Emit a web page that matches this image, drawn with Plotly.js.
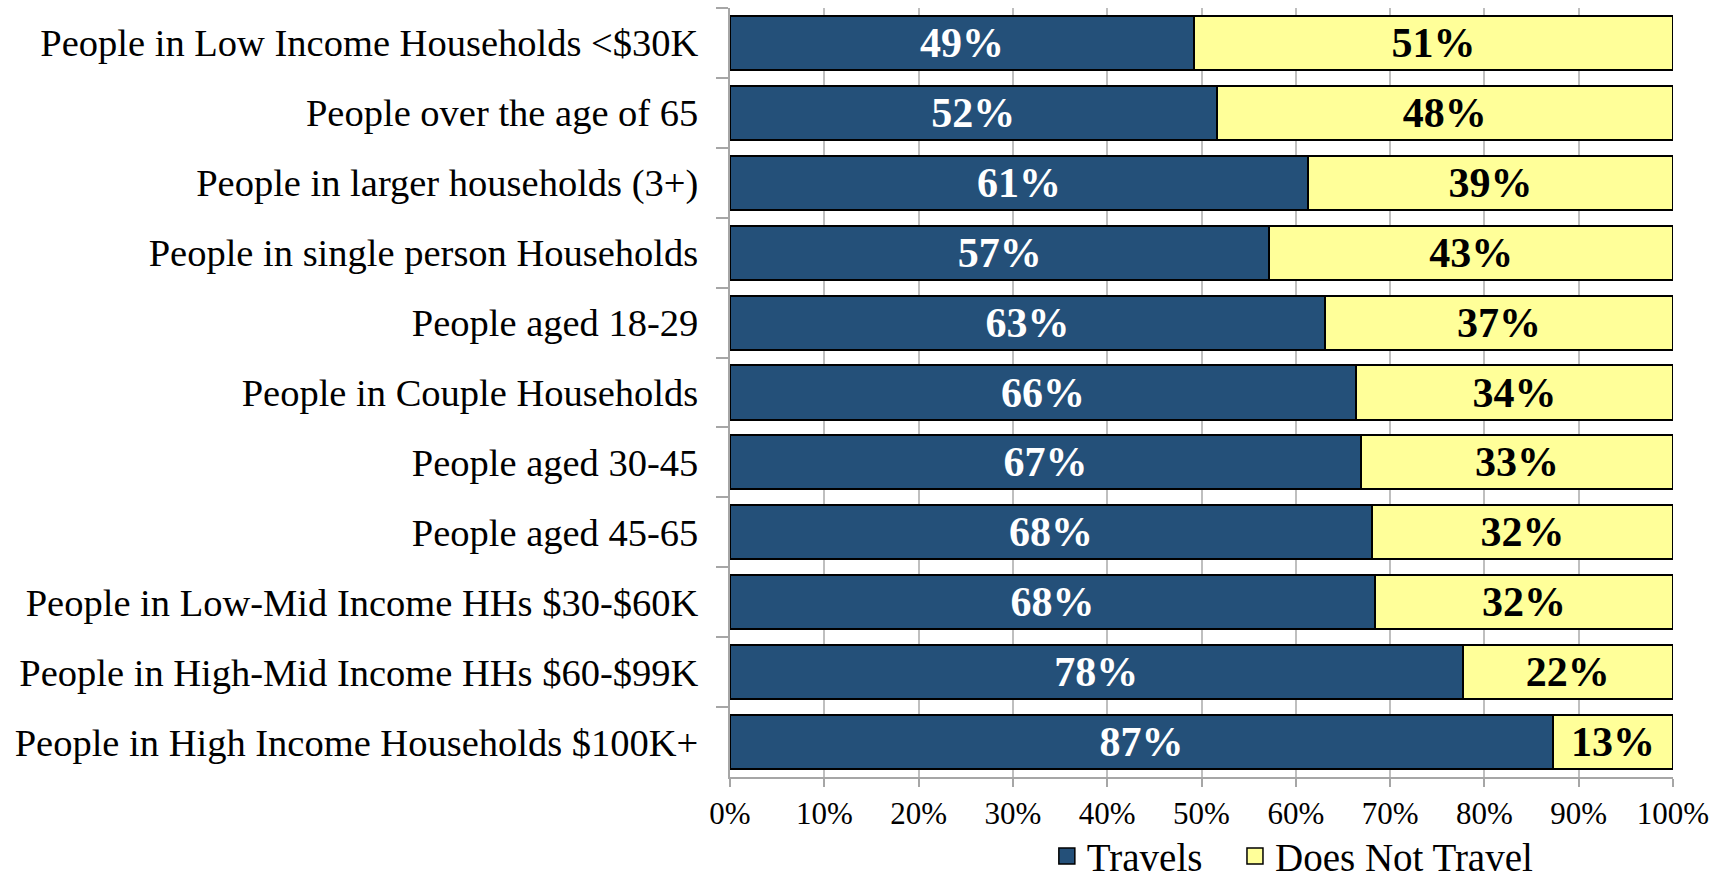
<!DOCTYPE html>
<html>
<head>
<meta charset="utf-8">
<script src="https://cdn.plot.ly/plotly-3.0.1.min.js"></script>
<style>html,body{margin:0;padding:0;background:#fff;}#chart{width:1725px;height:884px;}</style>
</head>
<body>
<div id="chart"></div>
<script>
const categories = [
  "People in Low Income Households <$30K",
  "People over the age of 65",
  "People in larger households (3+)",
  "People in single person Households",
  "People aged 18-29",
  "People in Couple Households",
  "People aged 30-45",
  "People aged 45-65",
  "People in Low-Mid Income HHs $30-$60K",
  "People in High-Mid Income HHs $60-$99K",
  "People in High Income Households $100K+"
];
const travels =        [49.2, 51.6, 61.3, 57.2, 63.1, 66.4, 66.9, 68.1, 68.4, 77.7, 87.3];
const doesNotTravel =  [50.8, 48.4, 38.7, 42.8, 36.9, 33.6, 33.1, 31.9, 31.6, 22.3, 12.7];
const travelsLabels =  ["49%","52%","61%","57%","63%","66%","67%","68%","68%","78%","87%"];
const notLabels =      ["51%","48%","39%","43%","37%","34%","33%","32%","32%","22%","13%"];
const xTickVals = [0,10,20,30,40,50,60,70,80,90,100];
const xTickText = ["0%","10%","20%","30%","40%","50%","60%","70%","80%","90%","100%"];

const FONT = "Liberation Serif, Times New Roman, serif";
const BLUE = "#245079";
const YELLOW = "#FFFF99";

const traces = [
  {
    type: "bar", orientation: "h", y: categories, x: travels, name: "Travels",
    text: travelsLabels, textposition: "inside", insidetextanchor: "middle",
    textangle: 0, constraintext: "none",
    textfont: {family: FONT, size: 42, color: "#ffffff", weight: "bold"},
    marker: {color: BLUE, line: {color: "#000000", width: 2}},
    showlegend: false, hoverinfo: "skip"
  },
  {
    type: "bar", orientation: "h", y: categories, x: doesNotTravel, name: "Does Not Travel",
    text: notLabels, textposition: "inside", insidetextanchor: "middle",
    textangle: 0, constraintext: "none",
    textfont: {family: FONT, size: 42, color: "#000000", weight: "bold"},
    marker: {color: YELLOW, line: {color: "#000000", width: 2}},
    showlegend: false, hoverinfo: "skip"
  },
  {
    type: "scatter", mode: "markers", x: [null], y: [null], name: "Travels",
    marker: {symbol: "square", size: 22, color: BLUE, line: {color: "#000", width: 1.5}},
    showlegend: true, legend: "legend"
  },
  {
    type: "scatter", mode: "markers", x: [null], y: [null], name: "Does Not Travel",
    marker: {symbol: "square", size: 22, color: YELLOW, line: {color: "#000", width: 1.5}},
    showlegend: true, legend: "legend2"
  }
];

const legendCommon = {
  orientation: "h", xanchor: "left", yanchor: "middle", y: -0.103,
  font: {family: FONT, size: 39, color: "#000"},
  itemwidth: 30, bgcolor: "rgba(0,0,0,0)"
};

const layout = {
  width: 1725, height: 884,
  margin: {l: 730, r: 52, t: 8, b: 107, autoexpand: false},
  paper_bgcolor: "#ffffff", plot_bgcolor: "#ffffff",
  barmode: "stack", bargap: 0.227,
  font: {family: FONT, color: "#000"},
  xaxis: {
    range: [0, 100], tickvals: xTickVals, ticktext: xTickText,
    showgrid: true, gridcolor: "#BFBFBF", gridwidth: 2,
    showline: true, linecolor: "#A6A6A6", linewidth: 2,
    ticks: "outside", ticklen: 8, tickcolor: "#A6A6A6", tickwidth: 2,
    tickfont: {family: FONT, size: 31, color: "#000"},
    zeroline: false, fixedrange: true, automargin: false
  },
  yaxis: {
    type: "category", autorange: "reversed",
    showline: true, linecolor: "#A6A6A6", linewidth: 2,
    ticks: "outside", tickson: "boundaries", ticklen: 12, tickcolor: "#A6A6A6", tickwidth: 2,
    ticklabelstandoff: 22,
    tickfont: {family: FONT, size: 38.5, color: "#000"},
    showgrid: false, zeroline: false, fixedrange: true, automargin: false
  },
  showlegend: true,
  legend: Object.assign({}, legendCommon, {x: 0.336}),
  legend2: Object.assign({}, legendCommon, {x: 0.5355})
};

Plotly.newPlot("chart", traces, layout, {staticPlot: true, displayModeBar: false});
</script>
</body>
</html>
